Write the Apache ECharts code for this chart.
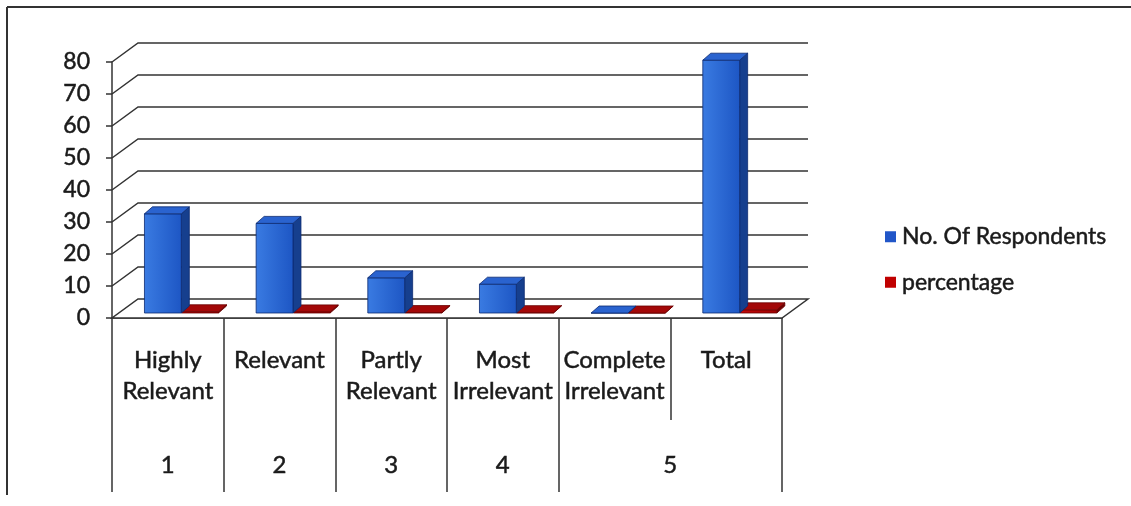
<!DOCTYPE html>
<html>
<head>
<meta charset="utf-8">
<script src="https://cdn.jsdelivr.net/npm/echarts@6/dist/echarts.min.js"></script>
<style>
html,body{margin:0;padding:0;background:#fff;}
#chart{width:1131px;height:506px;}
</style>
</head>
<body>
<div id="chart"></div>
<script>
// ---- data ----
const categories = ['Highly\nRelevant', 'Relevant', 'Partly\nRelevant', 'Most\nIrrelevant', 'Complete\nIrrelevant', 'Total'];
const groupLabels = ['1', '2', '3', '4', '5'];
const groupSpans = [[0, 1], [1, 2], [2, 3], [3, 4], [4, 6]];
const respondents = [31, 28, 11, 9, 0, 79];
const percentage = [0.39, 0.35, 0.14, 0.11, 0, 1.00];
const yTicks = [0, 10, 20, 30, 40, 50, 60, 70, 80];

// ---- 3D look (styles) ----
const WALL_DX = 26, WALL_DY = -19;
const FRONT_DX = 6, FRONT_DY = -5;
const BAR_DX = 8, BAR_DY = -7;
const BAR_W = 0.33;
const FONT = 'Lato, "Open Sans", sans-serif';
const TXT = '#1a1a1a';
const LINE = '#333333';
const txtStyle = {color: TXT, fontFamily: FONT, textBorderColor: TXT, textBorderWidth: 0.5};

function bar3d(offsetFrac, col) {
  return function (params, api) {
    const idx = api.value(0), val = api.value(1);
    const bw = api.size([1, 0])[0];
    const c = api.coord([idx, 0]);
    const t = api.coord([idx, val]);
    const fx = c[0] - bw / 2 + offsetFrac * bw + FRONT_DX;
    const w = BAR_W * bw;
    const by = c[1] + FRONT_DY, ty = t[1] + FRONT_DY;
    const h = Math.max(by - ty, 0);
    const st = {stroke: col.edge, lineWidth: 0.8};
    return {
      type: 'group',
      children: [
        {type: 'polygon', shape: {points: [[fx + w, ty], [fx + w + BAR_DX, ty + BAR_DY], [fx + w + BAR_DX, by + BAR_DY], [fx + w, by]]},
         style: Object.assign({fill: col.side}, st)},
        {type: 'rect', shape: {x: fx, y: ty, width: w, height: h},
         style: Object.assign({fill: new echarts.graphic.LinearGradient(0, 0, 1, 0, [{offset: 0, color: col.front1}, {offset: 1, color: col.front2}])}, st)},
        {type: 'polygon', shape: {points: [[fx, ty], [fx + BAR_DX, ty + BAR_DY], [fx + w + BAR_DX, ty + BAR_DY], [fx + w, ty]]},
         style: Object.assign({fill: col.top}, st)}
      ]
    };
  };
}

const blue = {front1: '#3a7be2', front2: '#1d56c4', side: '#163f8e', top: '#2a63cf', edge: '#0b2a70'};
const red = {front1: '#c40a0a', front2: '#a00000', side: '#700000', top: '#a30808', edge: '#6a0000'};

function wallItem(params, api) {
  const cs = params.coordSys;
  const v = api.value(1);
  const y = api.coord([0, v])[1];
  const x0 = cs.x, x1 = cs.x + cs.width;
  if (v === 0) {
    return {type: 'polygon', shape: {points: [[x0, y], [x1, y], [x1 + WALL_DX, y + WALL_DY], [x0 + WALL_DX, y + WALL_DY]]},
      style: {fill: '#fff', stroke: LINE, lineWidth: 1.5}};
  }
  return {type: 'polyline', shape: {points: [[x0, y], [x0 + WALL_DX, y + WALL_DY], [x1 + WALL_DX, y + WALL_DY]]},
    style: {fill: null, stroke: LINE, lineWidth: 1.5}};
}

const groupMids = groupSpans.map(s => (s[0] + s[1]) / 2);
const groupBounds = [0].concat(groupSpans.map(s => s[1]));

const chart = echarts.init(document.getElementById('chart'));
chart.setOption({
  animation: false,
  backgroundColor: '#fff',
  textStyle: {fontFamily: FONT},
  graphic: [
    {type: 'line', shape: {x1: 7, y1: 7, x2: 1131, y2: 7}, style: {stroke: '#333', lineWidth: 2}},
    {type: 'line', shape: {x1: 7, y1: 7, x2: 7, y2: 495}, style: {stroke: '#333', lineWidth: 2}}
  ],
  legend: {
    orient: 'vertical', left: 880, top: 220, itemGap: 22, itemWidth: 11, itemHeight: 11,
    icon: 'rect', data: ['No. Of Respondents', 'percentage'],
    textStyle: Object.assign({fontSize: 23, padding: [0, 0, 0, 1]}, txtStyle)
  },
  grid: {left: 112, right: 349, top: 62, bottom: 188},
  xAxis: [
    {
      type: 'category', data: categories, boundaryGap: true, position: 'bottom',
      axisLine: {show: true, lineStyle: {color: LINE, width: 1.5}},
      axisTick: {show: true, interval: 0, length: 102, alignWithLabel: false, lineStyle: {color: LINE, width: 1.5}},
      axisLabel: Object.assign({interval: 0, margin: 27, fontSize: 24, lineHeight: 31, verticalAlign: 'top'}, txtStyle)
    },
    {
      type: 'value', min: 0, max: 6, position: 'bottom',
      axisLine: {show: false},
      splitLine: {show: false},
      axisTick: {show: true, customValues: groupBounds, length: 174, lineStyle: {color: LINE, width: 1.5}},
      axisLabel: Object.assign({
        customValues: groupMids, margin: 135, fontSize: 24,
        formatter: function (v) { const i = groupMids.indexOf(v); return i >= 0 ? groupLabels[i] : ''; }
      }, txtStyle)
    }
  ],
  yAxis: {
    type: 'value', min: 0, max: 80, interval: 10,
    axisLine: {show: true, lineStyle: {color: LINE, width: 1.5}},
    axisTick: {show: true, length: 6, lineStyle: {color: LINE, width: 1.5}},
    splitLine: {show: false},
    axisLabel: Object.assign({fontSize: 23, margin: 22}, txtStyle)
  },
  series: [
    {
      name: 'wall', type: 'custom', silent: true, z: 1,
      renderItem: wallItem, encode: {x: 0, y: 1},
      data: yTicks.map(v => [0, v])
    },
    {
      name: 'No. Of Respondents', type: 'custom', z: 3,
      itemStyle: {color: '#2156c8'},
      renderItem: bar3d(0.237, blue), encode: {x: 0, y: 1},
      data: respondents.map((v, i) => [i, v])
    },
    {
      name: 'percentage', type: 'custom', z: 2,
      itemStyle: {color: '#c00000'},
      renderItem: bar3d(0.57, red), encode: {x: 0, y: 1},
      data: percentage.map((v, i) => [i, v])
    }
  ]
});
</script>
</body>
</html>
